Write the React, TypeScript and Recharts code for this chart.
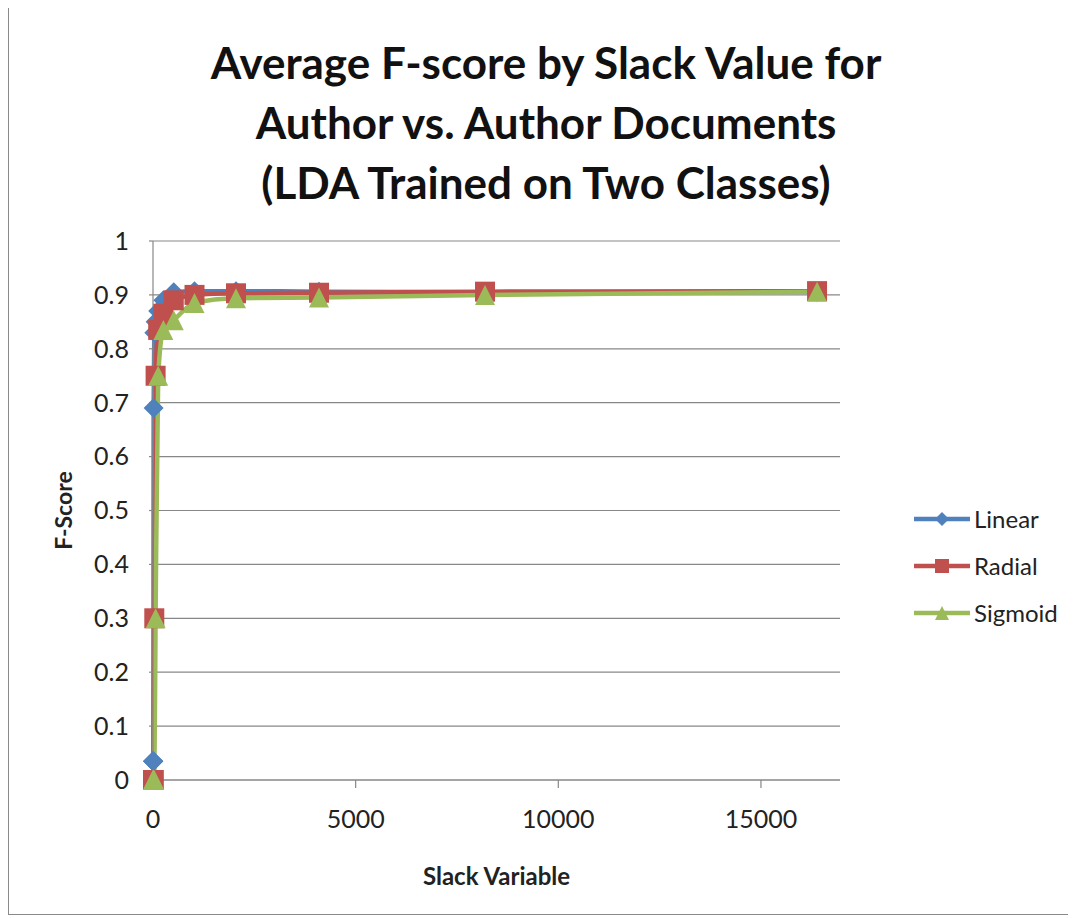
import React from "react";
import { LineChart, Line, XAxis, YAxis, CartesianGrid } from "recharts";

// slack variable (C) values, powers of two
const slack = [1, 2, 4, 8, 16, 32, 64, 128, 256, 512, 1024, 2048, 4096, 8192, 16384];
const linear = [0.035, 0.035, 0.035, 0.035, 0.69, 0.83, 0.85, 0.87, 0.89, 0.905, 0.907, 0.907, 0.906, 0.905, 0.906];
const radial = [0, 0, 0, 0, 0, 0.3, 0.75, 0.835, 0.865, 0.89, 0.9, 0.903, 0.904, 0.906, 0.907];
const sigmoid = [0, 0, 0, 0, 0, 0, 0.3, 0.75, 0.835, 0.853, 0.885, 0.894, 0.895, 0.9, 0.906];

const xTicks = [0, 5000, 10000, 15000];
const yTicks = [0, 0.1, 0.2, 0.3, 0.4, 0.5, 0.6, 0.7, 0.8, 0.9, 1];

const titleLines = [
  "Average F-score by Slack Value for",
  "Author vs. Author Documents",
  "(LDA Trained on Two Classes)",
];

const BLUE = "#4F81BD";
const RED = "#C0504D";
const GREEN = "#9BBB59";
const AXIS = "#878787";
const FONT = "Lato, 'Open Sans', sans-serif";

const data = slack.map((x, i) => ({
  x,
  linear: linear[i],
  radial: radial[i],
  sigmoid: sigmoid[i],
}));

type Shape = "diamond" | "square" | "triangle";

const marker = (shape: Shape, cx: number, cy: number, r: number, fill: string) => {
  if (shape === "diamond")
    return (
      <path
        d={`M${cx},${cy - r} L${cx + r},${cy} L${cx},${cy + r} L${cx - r},${cy} Z`}
        fill={fill}
      />
    );
  if (shape === "square")
    return <rect x={cx - r} y={cy - r} width={r * 2} height={r * 2} fill={fill} />;
  return (
    <path
      d={`M${cx},${cy - r} L${cx + r},${cy + r} L${cx - r},${cy + r} Z`}
      fill={fill}
    />
  );
};

const dotRenderer = (shape: Shape, fill: string, r: number) => (props: any) => {
  const { cx, cy, index } = props;
  if (cx == null || cy == null) return <g key={`e-${index}`} />;
  return <g key={`${shape}-${index}`}>{marker(shape, cx, cy, r, fill)}</g>;
};

const legendItems: { name: string; color: string; shape: Shape }[] = [
  { name: "Linear", color: BLUE, shape: "diamond" },
  { name: "Radial", color: RED, shape: "square" },
  { name: "Sigmoid", color: GREEN, shape: "triangle" },
];

const YLabel = ({ viewBox }: any) => {
  const x = viewBox.x - 30;
  const y = viewBox.y + viewBox.height / 2;
  return (
    <text
      x={x}
      y={y}
      transform={`rotate(-90, ${x}, ${y})`}
      textAnchor="middle"
      dominantBaseline="central"
      fontFamily={FONT}
      fontWeight={700}
      fontSize={23}
      fill="#222"
    >
      F-Score
    </text>
  );
};

const XLabel = ({ viewBox }: any) => (
  <text
    x={viewBox.x + viewBox.width / 2}
    y={viewBox.y + 95}
    textAnchor="middle"
    dominantBaseline="central"
    fontFamily={FONT}
    fontWeight={700}
    fontSize={24}
    fill="#222"
  >
    Slack Variable
  </text>
);

export default function App() {
  return (
    <div
      style={{
        position: "relative",
        width: 1068,
        height: 906,
        borderLeft: "1px solid #8a8a8a",
        borderBottom: "1px solid #8a8a8a",
        background: "#fff",
      }}
    >
      {/* Title */}
      <div
        style={{
          position: "absolute",
          left: 0,
          top: 24,
          width: 1074,
          textAlign: "center",
          fontFamily: FONT,
          fontWeight: 700,
          fontSize: 44,
          lineHeight: "60px",
          color: "#111",
        }}
      >
        {titleLines.map((t) => (
          <div key={t}>{t}</div>
        ))}
      </div>

      <LineChart
        width={1068}
        height={906}
        data={data}
        margin={{ top: 233, right: 237, left: 84, bottom: 94 }}
        style={{ position: "absolute", left: 0, top: 0 }}
      >
        <CartesianGrid vertical={false} stroke={AXIS} strokeWidth={1.2} />
        <XAxis
          type="number"
          dataKey="x"
          domain={[0, 16950]}
          ticks={xTicks}
          height={40}
          stroke={AXIS}
          strokeWidth={1.2}
          tickSize={8}
          tickMargin={22}
          tick={{ fill: "#222", fontSize: 25, fontFamily: FONT }}
          label={<XLabel />}
        />
        <YAxis
          type="number"
          domain={[0, 1]}
          ticks={yTicks}
          width={60}
          stroke={AXIS}
          strokeWidth={1.2}
          tickSize={4}
          tickMargin={20}
          interval={0}
          tick={{ fill: "#222", fontSize: 25, fontFamily: FONT }}
          label={<YLabel />}
        />
        <Line
          type="monotone"
          dataKey="linear"
          name="Linear"
          stroke={BLUE}
          strokeWidth={4.5}
          dot={dotRenderer("diamond", BLUE, 10)}
          activeDot={false}
          isAnimationActive={false}
        />
        <Line
          type="monotone"
          dataKey="radial"
          name="Radial"
          stroke={RED}
          strokeWidth={4.5}
          dot={dotRenderer("square", RED, 10)}
          activeDot={false}
          isAnimationActive={false}
        />
        <Line
          type="monotone"
          dataKey="sigmoid"
          name="Sigmoid"
          stroke={GREEN}
          strokeWidth={4.5}
          dot={dotRenderer("triangle", GREEN, 10)}
          activeDot={false}
          isAnimationActive={false}
        />
      </LineChart>

      {/* Legend */}
      <div
        style={{
          position: "absolute",
          left: 904,
          top: 487,
          fontFamily: FONT,
          fontSize: 24,
          color: "#222",
        }}
      >
        {legendItems.map((item) => (
          <div
            key={item.name}
            style={{ display: "flex", alignItems: "center", height: 47 }}
          >
            <svg width={58} height={20} style={{ marginRight: 3 }}>
              <line x1={1} y1={10} x2={57} y2={10} stroke={item.color} strokeWidth={4.5} />
              {marker(item.shape, 29, 10, 7, item.color)}
            </svg>
            <span>{item.name}</span>
          </div>
        ))}
      </div>
    </div>
  );
}
